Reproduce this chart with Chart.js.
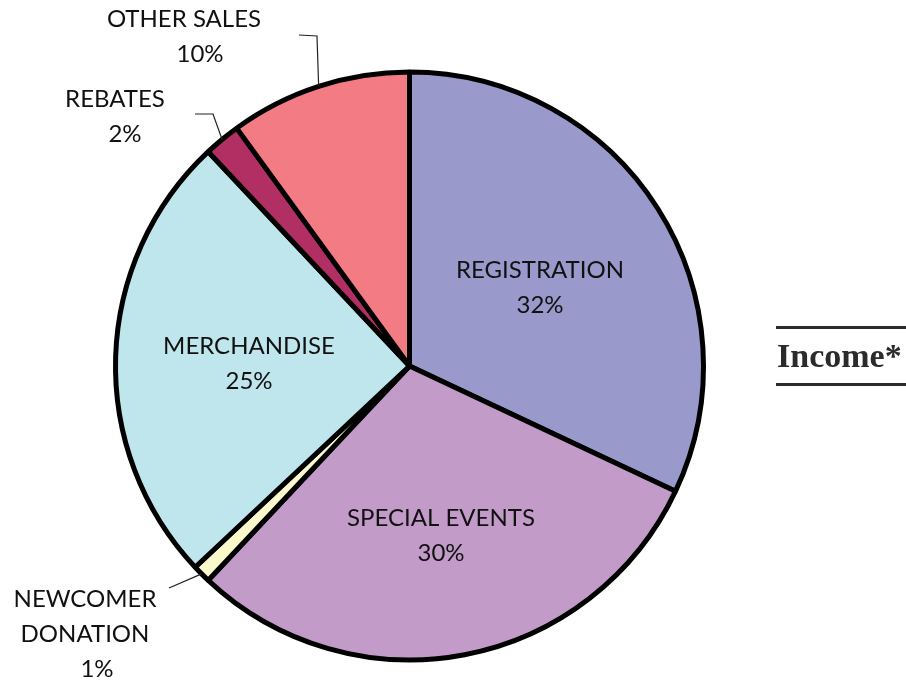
<!DOCTYPE html>
<html>
<head>
<meta charset="utf-8">
<script src="https://cdn.jsdelivr.net/npm/chart.js@4"></script>
<style>
  html, body { margin: 0; padding: 0; background: #fff; overflow: hidden; }
  #wrap { position: relative; width: 906px; height: 681px; }
  #title {
    position: absolute; left: 776px; top: 326px; width: 130px; height: 54px;
    border-top: 3px solid #2b2b2b; border-bottom: 3px solid #2b2b2b;
    font-family: "Liberation Serif", "DejaVu Serif", serif; font-weight: bold;
    font-size: 34px; color: #2b2b2b; line-height: 54px; padding-left: 1px;
  }
</style>
</head>
<body>
<div id="wrap">
  <canvas id="income-chart"></canvas>
  <div id="title">Income*</div>
</div>
<script>
// data
const categories = ["REGISTRATION", "SPECIAL EVENTS", ["NEWCOMER", "DONATION"], "MERCHANDISE", "REBATES", "OTHER SALES"];
const shares = [32, 30, 1, 25, 2, 10];
const sliceColors = ['#9999CC', '#C39BC9', '#FBF8CC', '#BFE6ED', '#B12F62', '#F37B84'];

const incomeCanvas = document.getElementById("income-chart");

// label spots relative to pie centre (first baseline), leader = points from text towards the edge
const labelSpots = [
    { dx: 130.5, dy: -88, pctDx: 0 },
    { dx: 31.5, dy: 160, pctDx: 0 },
    { dx: -324.5, dy: 241, pctDx: 12, leader: [[-240.5, 222]] },
    { dx: -160.5, dy: -12, pctDx: 0 },
    { dx: -294.5, dy: -259, pctDx: 10, leader: [[-214.5, -252], [-196.5, -252]] },
    { dx: -225.5, dy: -339, pctDx: 16, leader: [[-110.5, -331], [-92.5, -330]] }
];

const sliceLabels = {
    id: 'sliceLabels',
    afterDatasetsDraw(chart) {
        const ctx = chart.ctx;
        const meta = chart.getDatasetMeta(0);
        ctx.save();
        ctx.font = '24px Lato, "Open Sans", sans-serif';
        ctx.fillStyle = '#111';
        ctx.textAlign = 'center';
        ctx.textBaseline = 'alphabetic';
        meta.data.forEach((arc, i) => {
            const p = arc.getProps(['x', 'y', 'startAngle', 'endAngle', 'outerRadius'], true);
            const spot = labelSpots[i];
            let lines = categories[i];
            if (!Array.isArray(lines)) lines = [lines];
            const x = p.x + spot.dx;
            let y = p.y + spot.dy;
            lines.forEach(t => {
                ctx.fillText(t, x, y);
                y += 35;
            });
            ctx.fillText(shares[i] + '%', x + spot.pctDx, y);

            if (spot.leader) {
                const mid = (p.startAngle + p.endAngle) / 2;
                ctx.beginPath();
                ctx.strokeStyle = '#222';
                ctx.lineWidth = 1.2;
                spot.leader.forEach((pt, k) => {
                    if (k === 0) ctx.moveTo(p.x + pt[0], p.y + pt[1]);
                    else ctx.lineTo(p.x + pt[0], p.y + pt[1]);
                });
                ctx.lineTo(p.x + Math.cos(mid) * p.outerRadius, p.y + Math.sin(mid) * p.outerRadius);
                ctx.stroke();
            }
        });
        ctx.restore();
    }
};

let incomeChart = new Chart(incomeCanvas, {
    type: 'pie',
    data: {
        labels: categories,
        datasets: [{
            data: shares,
            backgroundColor: sliceColors,
            borderColor: '#000',
            borderWidth: 5
        }]
    },
    options: {
        responsive: true,
        maintainAspectRatio: false,
        animation: false,
        radius: 294,
        layout: { padding: { top: 51, right: 87, left: 0, bottom: 0 } },
        plugins: {
            legend: { display: false },
            tooltip: { enabled: false }
        }
    },
    plugins: [sliceLabels]
});
</script>
</body>
</html>
